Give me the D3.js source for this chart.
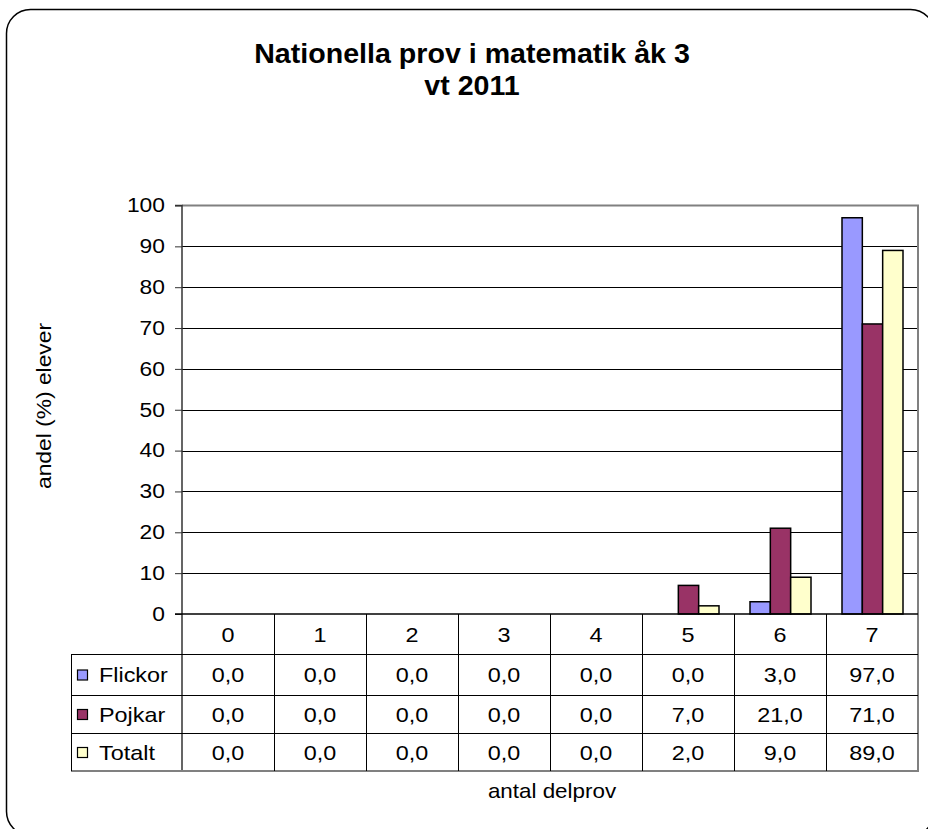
<!DOCTYPE html>
<html>
<head>
<meta charset="utf-8">
<script src="https://cdn.jsdelivr.net/npm/d3@7"></script>
<style>
  body { margin: 0; background: #fff; }
  svg text { font-family: "Liberation Sans", Arial, sans-serif; fill: #000; }
</style>
</head>
<body>
<svg width="928" height="829"></svg>
<script>
// chart data
const categories = ['0', '1', '2', '3', '4', '5', '6', '7'];
const seriesNames = ['Flickor', 'Pojkar', 'Totalt'];
const seriesColors = ['#9999ff', '#993366', '#ffffcc'];
const flickor = [0, 0, 0, 0, 0, 0, 3, 97];
const pojkar = [0, 0, 0, 0, 0, 7, 21, 71];
const totalt = [0, 0, 0, 0, 0, 2, 9, 89];
const yTicks = [0, 10, 20, 30, 40, 50, 60, 70, 80, 90, 100];
const titleLines = ['Nationella prov i matematik åk 3', 'vt 2011'];
const yLabel = 'andel (%) elever';
const xLabel = 'antal delprov';

const values = [flickor, pojkar, totalt];

const svg = d3.select('svg');
const plot = {left: 182, right: 918, top: 205.5, bottom: 614};
const rowY = [614, 654, 695, 733, 771];
const tableLeft = 71;
const sx = 1.17;   // the reference fonts render a bit wide

// text helper, stretched horizontally
function label (g, str, x, y, opts = {}) {
  const s = opts.sx || sx;
  const rot = opts.rotate ? ` rotate(${opts.rotate})` : '';
  return g.append('text')
    .attr('transform', `translate(${x},${y})${rot} scale(${s},1)`)
    .attr('text-anchor', opts.anchor || 'middle')
    .attr('dominant-baseline', 'central')
    .style('font-size', (opts.size || 20) + 'px')
    .style('font-weight', opts.bold ? 'bold' : 'normal')
    .text(str);
}

// outer frame
svg.append('rect')
  .attr('x', 6.5).attr('y', 9.5).attr('width', 928).attr('height', 826)
  .attr('rx', 24).attr('fill', '#fff').attr('stroke', '#000').attr('stroke-width', 1.5);

// scales
const x = d3.scaleBand().domain(categories).range([plot.left, plot.right]);
const xs = d3.scaleBand().domain(seriesNames).range([15.5, x.bandwidth() - 15.5]);
const y = d3.scaleLinear().domain([0, 100]).range([plot.bottom, plot.top]);

const g = svg.append('g');

// gridlines
g.append('g').selectAll('line')
  .data(yTicks.filter(d => d > 0 && d < 100)).enter()
  .append('line')
  .attr('x1', plot.left).attr('x2', plot.right)
  .attr('y1', d => Math.round(y(d)) + 0.5).attr('y2', d => Math.round(y(d)) + 0.5)
  .attr('stroke', '#000').attr('stroke-width', 1);

// plot border (top + right, grey)
g.append('path')
  .attr('d', `M${plot.left},${plot.top} H${plot.right} V${rowY[4]}`)
  .attr('fill', 'none').attr('stroke', '#808080').attr('stroke-width', 2);

// bars
const groups = g.append('g').selectAll('g')
  .data(categories).enter()
  .append('g')
  .attr('transform', d => `translate(${x(d)},0)`);

groups.selectAll('rect')
  .data((c, i) => seriesNames.map((s, k) => ({s, k, v: values[k][i]})).filter(d => d.v > 0))
  .enter().append('rect')
  .attr('x', d => xs(d.s) + 0.5)
  .attr('y', d => y(d.v))
  .attr('width', xs.bandwidth())
  .attr('height', d => y(0) - y(d.v))
  .attr('fill', d => seriesColors[d.k])
  .attr('stroke', '#000').attr('stroke-width', 1.5);

// y axis
const yAxis = g.append('g')
  .attr('transform', `translate(${plot.left},0)`)
  .call(d3.axisLeft(y).tickValues(yTicks).tickSize(7).tickPadding(11));
yAxis.select('.domain').attr('stroke', '#333').attr('stroke-width', 1.5)
  .attr('d', `M-7,${plot.top}H0V${rowY[4]}`);
yAxis.selectAll('.tick line').attr('stroke', '#333');
yAxis.selectAll('.tick text').remove();
yTicks.forEach(t => label(g, t, 165, y(t), {anchor: 'end', size: 19.5}));

// x axis line
g.append('line')
  .attr('x1', plot.left - 7).attr('x2', plot.right)
  .attr('y1', plot.bottom).attr('y2', plot.bottom)
  .attr('stroke', '#000').attr('stroke-width', 1.5);

// data table
const table = svg.append('g');
rowY.slice(1, 4).forEach(ry => {
  table.append('line')
    .attr('x1', tableLeft).attr('x2', plot.right)
    .attr('y1', ry + 0.5).attr('y2', ry + 0.5)
    .attr('stroke', '#000').attr('stroke-width', 1);
});
table.append('line')
  .attr('x1', tableLeft).attr('x2', plot.right + 1)
  .attr('y1', rowY[4]).attr('y2', rowY[4])
  .attr('stroke', '#808080').attr('stroke-width', 2);
table.append('line')
  .attr('x1', tableLeft + 0.5).attr('x2', tableLeft + 0.5)
  .attr('y1', rowY[1]).attr('y2', rowY[4])
  .attr('stroke', '#000').attr('stroke-width', 1);
categories.slice(1).forEach(c => {
  table.append('line')
    .attr('x1', x(c) + 0.5).attr('x2', x(c) + 0.5)
    .attr('y1', rowY[0]).attr('y2', rowY[4])
    .attr('stroke', '#000').attr('stroke-width', 1);
});

// header row: category labels
categories.forEach(c => label(table, c, x(c) + x.bandwidth() / 2, (rowY[0] + rowY[1]) / 2 + 1));

// series rows
seriesNames.forEach((s, k) => {
  const cy = (rowY[k + 1] + rowY[k + 2]) / 2 + 1;
  table.append('rect')
    .attr('x', 77.5).attr('y', cy - 5.5).attr('width', 10).attr('height', 10)
    .attr('fill', seriesColors[k]).attr('stroke', '#000').attr('stroke-width', 1.2);
  label(table, s, 99, cy, {anchor: 'start'});
  categories.forEach((c, i) => {
    label(table, values[k][i].toFixed(1).replace('.', ','), x(c) + x.bandwidth() / 2, cy);
  });
});

// titles
label(svg, titleLines[0], 472, 54, {size: 27, bold: true, sx: 1.06});
label(svg, titleLines[1], 472, 86, {size: 27, bold: true, sx: 1.06});
label(svg, yLabel, 44, 406, {rotate: -90, size: 19.5});
label(svg, xLabel, 552, 791, {size: 20, sx: 1.12});
</script>
</body>
</html>
